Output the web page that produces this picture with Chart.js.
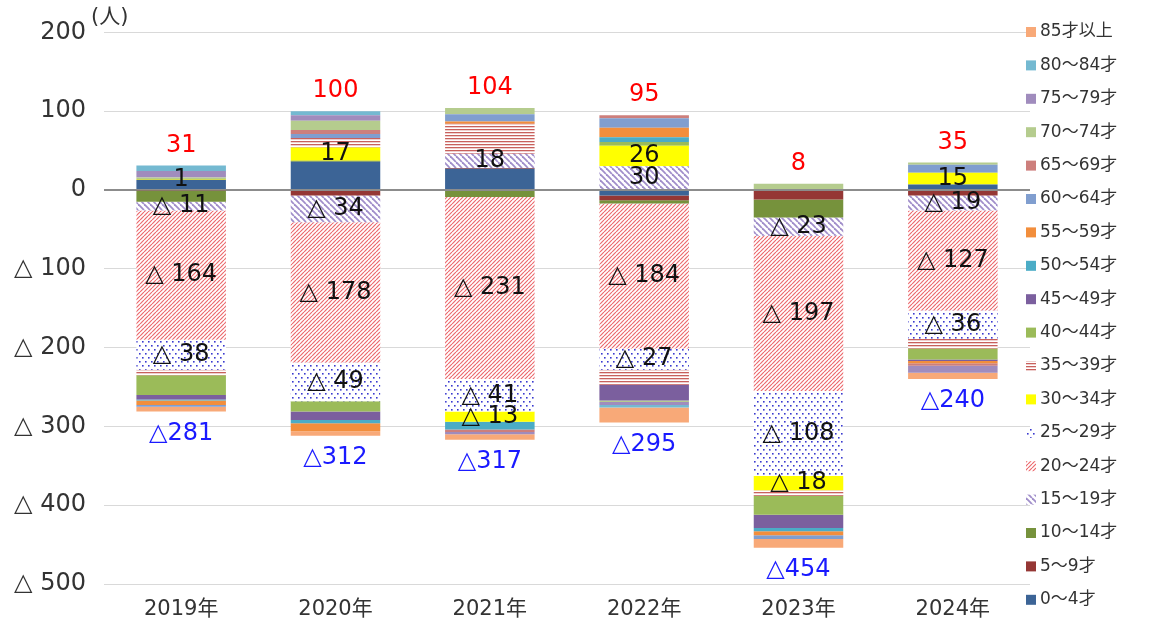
<!DOCTYPE html>
<html>
<head>
<meta charset="utf-8">
<script src="https://cdn.jsdelivr.net/npm/chart.js@4"></script>
<style>
  html, body { margin: 0; padding: 0; background: #fff; }
  #wrap { width: 1150px; height: 624px; }
</style>
</head>
<body>
<div id="wrap"><canvas id="popChart" width="1150" height="624"></canvas></div>
<script>
// 年齢別 社会増減（人）
const years = ["2019年", "2020年", "2021年", "2022年", "2023年", "2024年"];
const ageGroups = ["0～4才", "5～9才", "10～14才", "15～19才", "20～24才", "25～29才",
  "30～34才", "35～39才", "40～44才", "45～49才", "50～54才", "55～59才",
  "60～64才", "65～69才", "70～74才", "75～79才", "80～84才", "85才以上"];

const age0_4   = [13, 36, 27, -7, 0, 7];
const age5_9   = [-1, -7, 1, -6, -12, -7];
const age10_14 = [-14, 1, -9, -4, -23, 0];
const age15_19 = [-11, -34, 18, 30, -23, -19];
const age20_24 = [-164, -178, -231, -184, -197, -127];
const age25_29 = [-38, -49, -41, -27, -108, -36];
const age30_34 = [1, 17, -13, 26, -18, 15];
const age35_39 = [-7, 12, 38, -19, -7, -12];
const age40_44 = [-25, -13, 0, 5, -24, -14];
const age45_49 = [-6, -11, 0, -20, -17, -2];
const age50_54 = [-1, -4, -10, 6, -4, 0];
const age55_59 = [-6, -10, 3, 12, -5, -3];
const age60_64 = [-2, 5, 9, 12, -5, 10];
const age65_69 = [0, 5, -3, 4, 0, -3];
const age70_74 = [2, 12, 8, -2, 8, 3];
const age75_79 = [8, 7, -3, -4, 0, -9];
const age80_84 = [7, 5, 0, -3, 0, 0];
const age85up  = [-6, -6, -7, -19, -11, -8];

const yTicks = [200, 100, 0, -100, -200, -300, -400, -500];

// series that get a value label inside the bar
const labelledGroups = ["15～19才", "20～24才", "25～29才", "30～34才"];

const FONT = "'DejaVu Sans', 'Noto Sans CJK JP', sans-serif";

function makePattern(kind, color) {
  const c = document.createElement("canvas");
  const size = { down: [6, 6], up: [4, 4], dots: [6, 8], hstripe: [4, 3] }[kind];
  c.width = size[0];
  c.height = size[1];
  const g = c.getContext("2d");
  g.fillStyle = "#fff";
  g.fillRect(0, 0, c.width, c.height);
  g.strokeStyle = color;
  g.fillStyle = color;
  if (kind === "down") {
    g.lineWidth = 1.8;
    for (const o of [-6, 0, 6]) { g.beginPath(); g.moveTo(o, 0); g.lineTo(o + 6, 6); g.stroke(); }
  } else if (kind === "up") {
    g.lineWidth = 1.2;
    for (const o of [-4, 0, 4]) { g.beginPath(); g.moveTo(o, 4); g.lineTo(o + 4, 0); g.stroke(); }
  } else if (kind === "dots") {
    g.fillRect(1, 1, 1.6, 1.6);
    g.fillRect(4, 5, 1.6, 1.6);
  } else if (kind === "hstripe") {
    g.fillRect(0, 0, 4, 1.3);
  }
  return g.createPattern(c, "repeat");
}

const values = [age0_4, age5_9, age10_14, age15_19, age20_24, age25_29, age30_34, age35_39,
  age40_44, age45_49, age50_54, age55_59, age60_64, age65_69, age70_74, age75_79, age80_84, age85up];

const fills = [
  "#3C6496", "#953735", "#76923C",
  makePattern("down", "#A08ECA"),
  makePattern("up", "#EC6A6E"),
  makePattern("dots", "#3A3AD0"),
  "#FFFF00",
  makePattern("hstripe", "#C8605C"),
  "#9BBB59", "#7B5F9E", "#4BACC6", "#F28E3C",
  "#809ECF", "#CD7F7C", "#B5CC8E", "#A08CBD", "#74B9D1", "#F8A978"
];

const datasets = ageGroups.map((name, i) => ({
  label: name,
  data: values[i],
  backgroundColor: fills[i],
  borderWidth: 0,
  categoryPercentage: 1,
  barPercentage: 0.58,
}));

function fmt(v) {
  return v < 0 ? "△ " + (-v) : String(v);
}

const labelsPlugin = {
  id: "labels",
  afterDatasetsDraw(chart) {
    const ctx = chart.ctx;
    const y = chart.scales.y;
    ctx.save();
    ctx.textAlign = "center";
    ctx.textBaseline = "middle";

    // segment labels
    ctx.font = "24px " + FONT;
    ctx.fillStyle = "#111";
    chart.data.datasets.forEach((ds, i) => {
      if (!labelledGroups.includes(ds.label)) return;
      chart.getDatasetMeta(i).data.forEach((el, j) => {
        const v = ds.data[j];
        if (!v) return;
        ctx.fillText(fmt(v), el.x, (el.y + el.base) / 2);
      });
    });

    // totals above / below each bar
    const xMeta = chart.getDatasetMeta(0).data;
    years.forEach((yr, j) => {
      let pos = 0, neg = 0;
      values.forEach(arr => { if (arr[j] > 0) pos += arr[j]; else neg += arr[j]; });
      ctx.fillStyle = "#FF0000";
      ctx.fillText(String(pos), xMeta[j].x, y.getPixelForValue(pos) - 20);
      ctx.fillStyle = "#1A1AFF";
      ctx.fillText("△" + (-neg), xMeta[j].x, y.getPixelForValue(neg) + 22);
    });

    // unit
    ctx.fillStyle = "#333";
    ctx.font = "21px " + FONT;
    ctx.textAlign = "left";
    ctx.fillText("(人)", 91, 18);

    // legend (reversed, like the stack)
    ctx.font = "17px " + FONT;
    const n = chart.data.datasets.length;
    for (let k = 0; k < n; k++) {
      const ds = chart.data.datasets[n - 1 - k];
      const cy = 32 + k * 33.4;
      ctx.fillStyle = ds.backgroundColor;
      ctx.fillRect(1026, cy - 5, 10, 10);
      ctx.fillStyle = "#333";
      ctx.fillText(ds.label, 1040, cy);
    }
    ctx.restore();
  }
};

Chart.defaults.font.family = FONT;
Chart.defaults.color = "#333";

new Chart(document.getElementById("popChart"), {
  type: "bar",
  data: { labels: years, datasets: datasets },
  options: {
    responsive: false,
    animation: false,
    layout: { padding: { top: 27, right: 120, bottom: 0, left: 0 } },
    plugins: {
      legend: { display: false },
      tooltip: { enabled: false },
    },
    scales: {
      x: {
        stacked: true,
        grid: { display: false, drawTicks: false },
        border: { display: false },
        ticks: { font: { size: 21 }, padding: 13, color: "#333" },
        afterFit(scale) { scale.height = 40; },
      },
      y: {
        stacked: true,
        min: -500,
        max: 200,
        grid: {
          drawTicks: false,
          color: c => (c.tick && c.tick.value === 0 ? "#8C8C8C" : "#D9D9D9"),
          lineWidth: c => (c.tick && c.tick.value === 0 ? 2 : 1),
        },
        border: { display: false },
        afterBuildTicks(scale) { scale.ticks = yTicks.map(v => ({ value: v })); },
        ticks: {
          font: { size: 24 },
          padding: 18,
          color: "#333",
          callback: v => fmt(v),
        },
        afterFit(scale) { scale.width = 104; },
      },
    },
  },
  plugins: [labelsPlugin],
});
</script>
</body>
</html>
